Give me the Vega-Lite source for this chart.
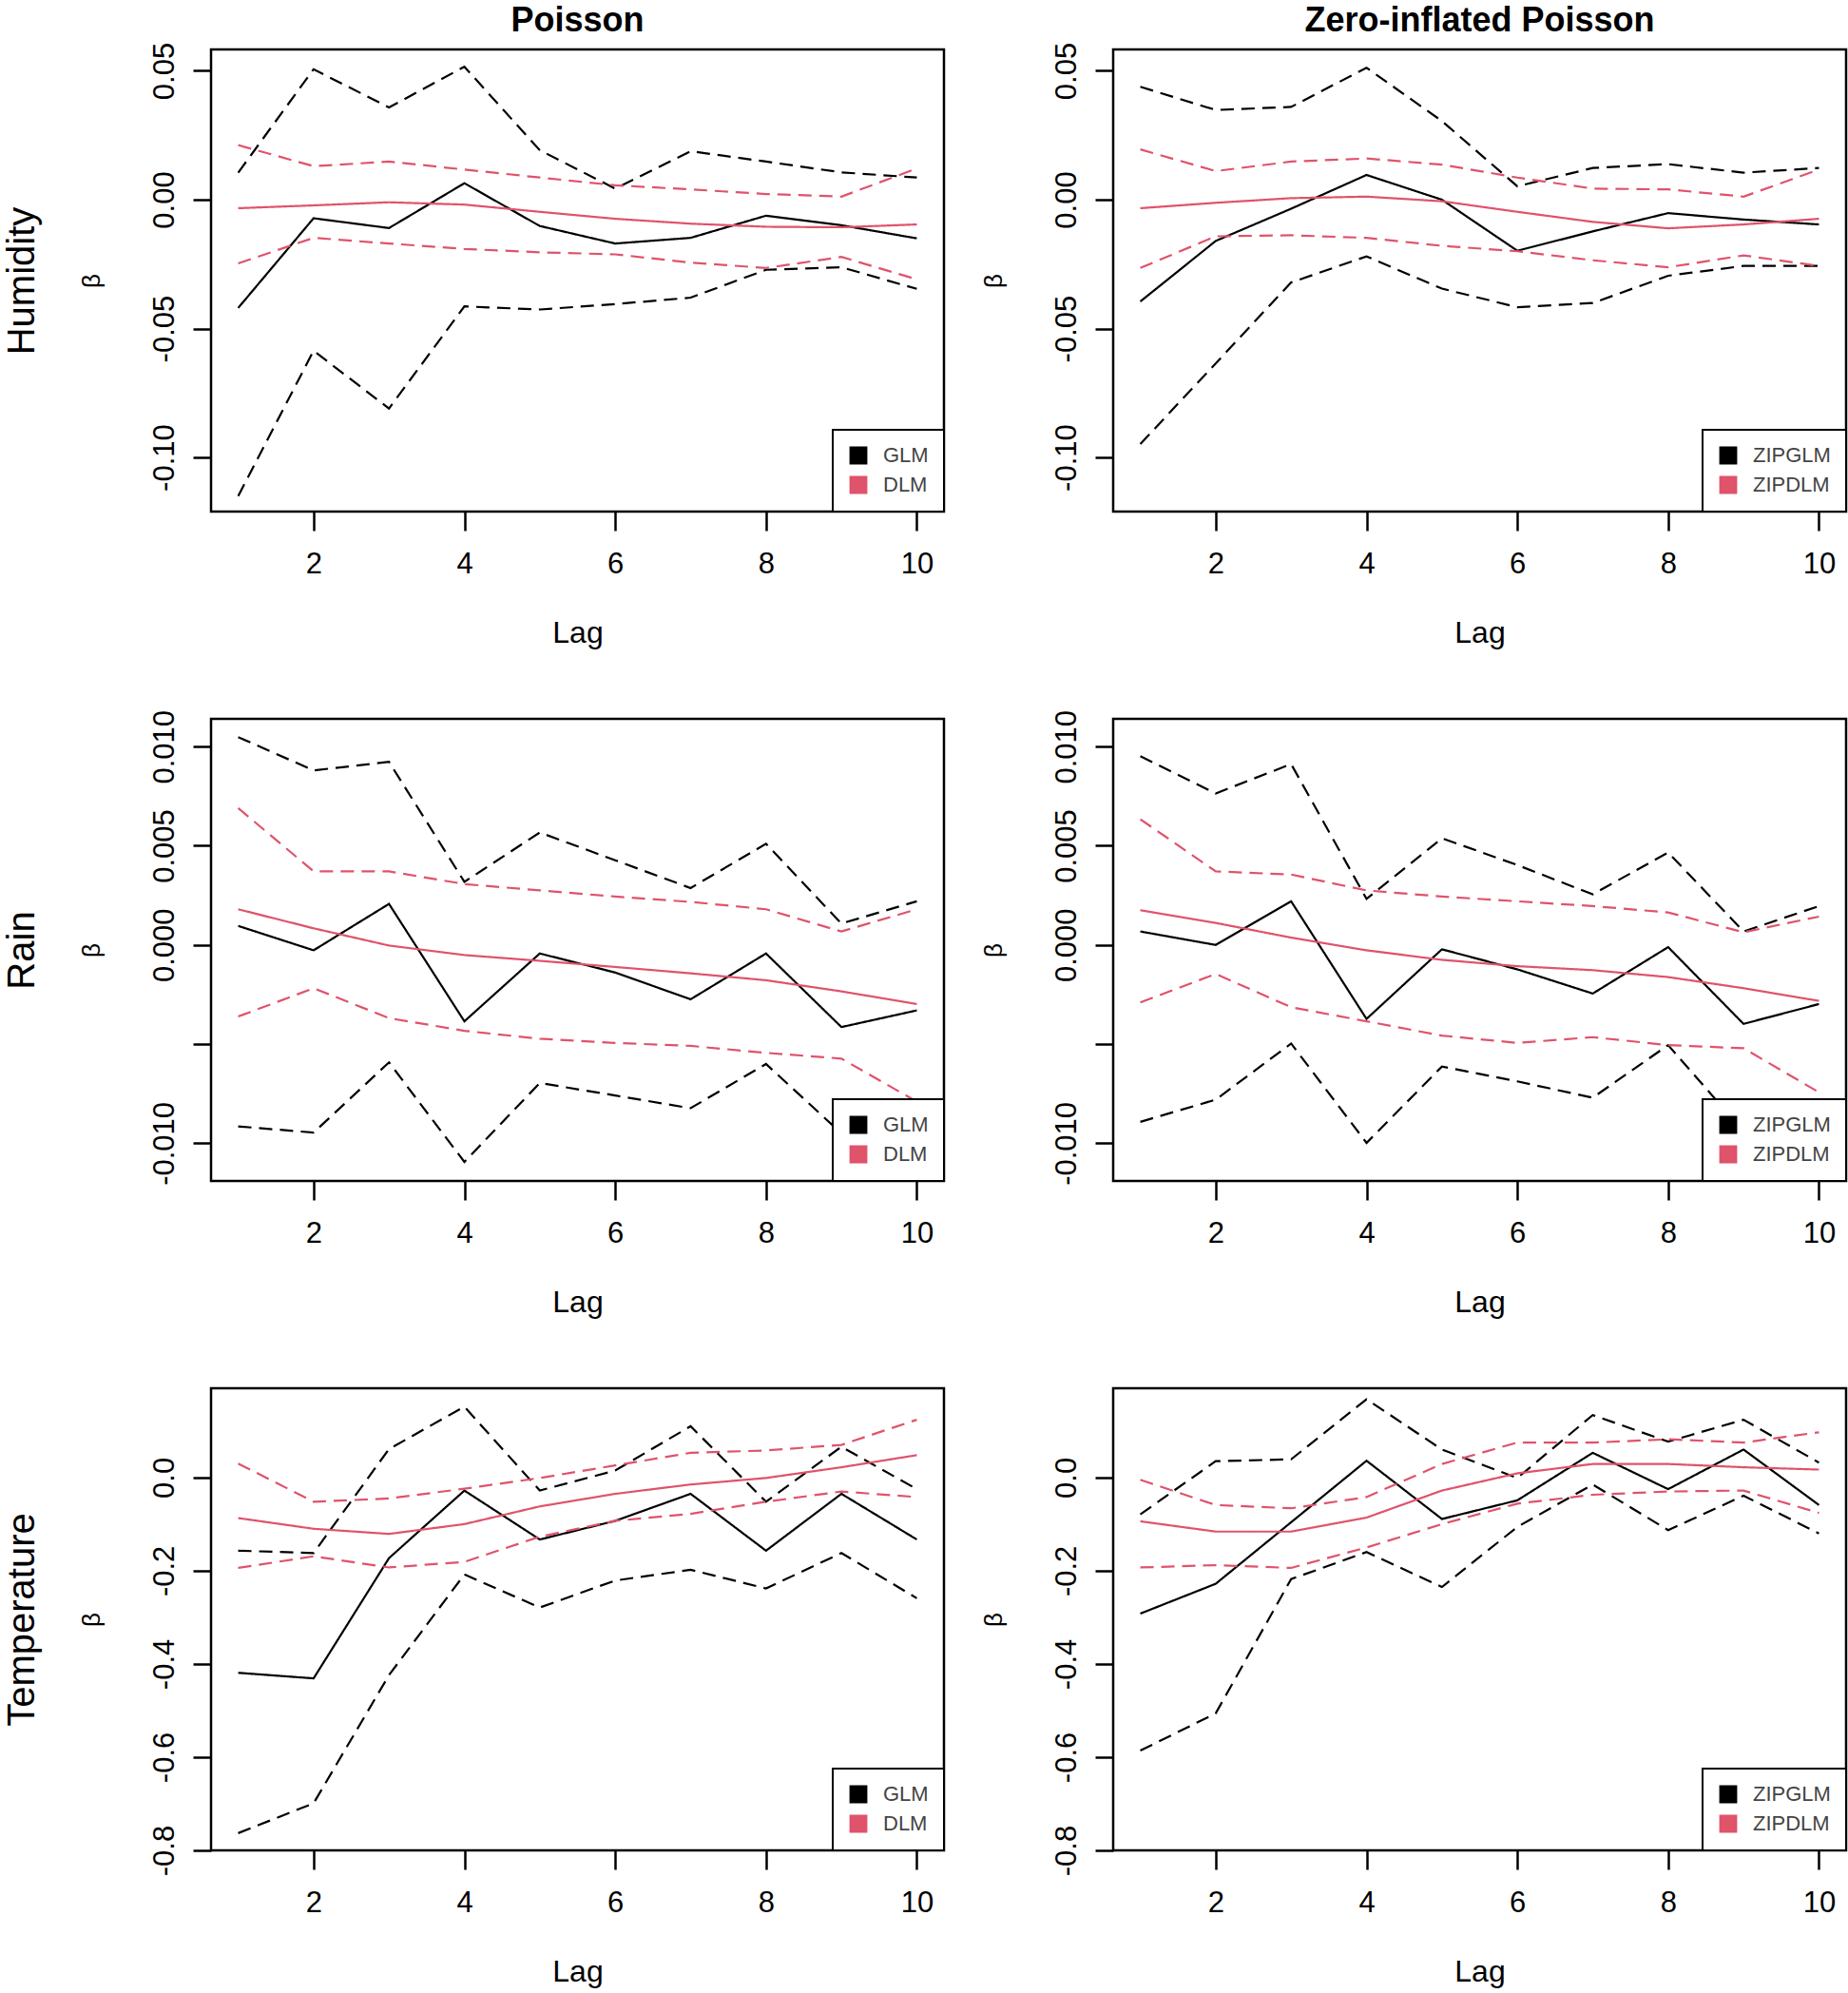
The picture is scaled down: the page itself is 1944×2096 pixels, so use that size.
{
"$schema": "https://vega.github.io/schema/vega-lite/v6.json",
"background": "white",
"padding": {"left": 1, "top": 3, "right": 0, "bottom": 0},
"datasets": {"d": [
{"v":"H","f":"P","m":"GLM","lag":1,"est":-0.042,"lo":-0.115,"hi":0.0105},
{"v":"H","f":"P","m":"GLM","lag":2,"est":-0.0072,"lo":-0.0586,"hi":0.0506},
{"v":"H","f":"P","m":"GLM","lag":3,"est":-0.011,"lo":-0.081,"hi":0.0358},
{"v":"H","f":"P","m":"GLM","lag":4,"est":0.0064,"lo":-0.0414,"hi":0.0516},
{"v":"H","f":"P","m":"GLM","lag":5,"est":-0.0102,"lo":-0.0426,"hi":0.0192},
{"v":"H","f":"P","m":"GLM","lag":6,"est":-0.017,"lo":-0.0405,"hi":0.0043},
{"v":"H","f":"P","m":"GLM","lag":7,"est":-0.0148,"lo":-0.038,"hi":0.0188},
{"v":"H","f":"P","m":"GLM","lag":8,"est":-0.0062,"lo":-0.0272,"hi":0.0148},
{"v":"H","f":"P","m":"GLM","lag":9,"est":-0.0099,"lo":-0.0262,"hi":0.0106},
{"v":"H","f":"P","m":"GLM","lag":10,"est":-0.015,"lo":-0.0346,"hi":0.0086},
{"v":"H","f":"P","m":"DLM","lag":1,"est":-0.0033,"lo":-0.0247,"hi":0.0212},
{"v":"H","f":"P","m":"DLM","lag":2,"est":-0.0022,"lo":-0.0148,"hi":0.013},
{"v":"H","f":"P","m":"DLM","lag":3,"est":-0.001,"lo":-0.017,"hi":0.0148},
{"v":"H","f":"P","m":"DLM","lag":4,"est":-0.0019,"lo":-0.0191,"hi":0.0117},
{"v":"H","f":"P","m":"DLM","lag":5,"est":-0.0047,"lo":-0.0204,"hi":0.0086},
{"v":"H","f":"P","m":"DLM","lag":6,"est":-0.0074,"lo":-0.0212,"hi":0.0056},
{"v":"H","f":"P","m":"DLM","lag":7,"est":-0.0093,"lo":-0.0244,"hi":0.004},
{"v":"H","f":"P","m":"DLM","lag":8,"est":-0.0105,"lo":-0.0265,"hi":0.0022},
{"v":"H","f":"P","m":"DLM","lag":9,"est":-0.0107,"lo":-0.0222,"hi":0.0012},
{"v":"H","f":"P","m":"DLM","lag":10,"est":-0.0096,"lo":-0.0309,"hi":0.0121},
{"v":"H","f":"Z","m":"ZIPGLM","lag":1,"est":-0.0395,"lo":-0.0948,"hi":0.0438},
{"v":"H","f":"Z","m":"ZIPGLM","lag":2,"est":-0.016,"lo":-0.0635,"hi":0.0348},
{"v":"H","f":"Z","m":"ZIPGLM","lag":3,"est":-0.0035,"lo":-0.0321,"hi":0.036},
{"v":"H","f":"Z","m":"ZIPGLM","lag":4,"est":0.0096,"lo":-0.022,"hi":0.0512},
{"v":"H","f":"Z","m":"ZIPGLM","lag":5,"est":0.0,"lo":-0.0345,"hi":0.0305},
{"v":"H","f":"Z","m":"ZIPGLM","lag":6,"est":-0.0198,"lo":-0.0417,"hi":0.0052},
{"v":"H","f":"Z","m":"ZIPGLM","lag":7,"est":-0.0123,"lo":-0.0401,"hi":0.0123},
{"v":"H","f":"Z","m":"ZIPGLM","lag":8,"est":-0.0052,"lo":-0.0295,"hi":0.0138},
{"v":"H","f":"Z","m":"ZIPGLM","lag":9,"est":-0.0077,"lo":-0.0257,"hi":0.0105},
{"v":"H","f":"Z","m":"ZIPGLM","lag":10,"est":-0.0096,"lo":-0.0257,"hi":0.0123},
{"v":"H","f":"Z","m":"ZIPDLM","lag":1,"est":-0.0033,"lo":-0.0265,"hi":0.0195},
{"v":"H","f":"Z","m":"ZIPDLM","lag":2,"est":-0.0012,"lo":-0.0142,"hi":0.0111},
{"v":"H","f":"Z","m":"ZIPDLM","lag":3,"est":0.0006,"lo":-0.0138,"hi":0.0148},
{"v":"H","f":"Z","m":"ZIPDLM","lag":4,"est":0.0012,"lo":-0.0148,"hi":0.016},
{"v":"H","f":"Z","m":"ZIPDLM","lag":5,"est":-0.0006,"lo":-0.0179,"hi":0.0136},
{"v":"H","f":"Z","m":"ZIPDLM","lag":6,"est":-0.0047,"lo":-0.02,"hi":0.0086},
{"v":"H","f":"Z","m":"ZIPDLM","lag":7,"est":-0.0086,"lo":-0.0235,"hi":0.0043},
{"v":"H","f":"Z","m":"ZIPDLM","lag":8,"est":-0.0111,"lo":-0.0262,"hi":0.004},
{"v":"H","f":"Z","m":"ZIPDLM","lag":9,"est":-0.0096,"lo":-0.0216,"hi":0.0012},
{"v":"H","f":"Z","m":"ZIPDLM","lag":10,"est":-0.0074,"lo":-0.0257,"hi":0.0117},
{"v":"R","f":"P","m":"GLM","lag":1,"est":0.00096,"lo":-0.00915,"hi":0.01048},
{"v":"R","f":"P","m":"GLM","lag":2,"est":-0.00027,"lo":-0.00946,"hi":0.0088},
{"v":"R","f":"P","m":"GLM","lag":3,"est":0.00207,"lo":-0.00592,"hi":0.00923},
{"v":"R","f":"P","m":"GLM","lag":4,"est":-0.00385,"lo":-0.01094,"hi":0.00318},
{"v":"R","f":"P","m":"GLM","lag":5,"est":-0.00043,"lo":-0.00696,"hi":0.00567},
{"v":"R","f":"P","m":"GLM","lag":6,"est":-0.00139,"lo":-0.00759,"hi":0.00427},
{"v":"R","f":"P","m":"GLM","lag":7,"est":-0.00274,"lo":-0.00823,"hi":0.00287},
{"v":"R","f":"P","m":"GLM","lag":8,"est":-0.00043,"lo":-0.006,"hi":0.0051},
{"v":"R","f":"P","m":"GLM","lag":9,"est":-0.00414,"lo":-0.0095,"hi":0.00108},
{"v":"R","f":"P","m":"GLM","lag":10,"est":-0.0033,"lo":-0.0092,"hi":0.0022},
{"v":"R","f":"P","m":"DLM","lag":1,"est":0.0018,"lo":-0.00361,"hi":0.0069},
{"v":"R","f":"P","m":"DLM","lag":2,"est":0.00084,"lo":-0.00218,"hi":0.00371},
{"v":"R","f":"P","m":"DLM","lag":3,"est":-0.00003,"lo":-0.00369,"hi":0.00371},
{"v":"R","f":"P","m":"DLM","lag":4,"est":-0.00051,"lo":-0.00433,"hi":0.00307},
{"v":"R","f":"P","m":"DLM","lag":5,"est":-0.0008,"lo":-0.00473,"hi":0.00275},
{"v":"R","f":"P","m":"DLM","lag":6,"est":-0.00111,"lo":-0.00494,"hi":0.00244},
{"v":"R","f":"P","m":"DLM","lag":7,"est":-0.00143,"lo":-0.00509,"hi":0.00217},
{"v":"R","f":"P","m":"DLM","lag":8,"est":-0.00178,"lo":-0.00544,"hi":0.0018},
{"v":"R","f":"P","m":"DLM","lag":9,"est":-0.00234,"lo":-0.00573,"hi":0.00068},
{"v":"R","f":"P","m":"DLM","lag":10,"est":-0.00298,"lo":-0.0079,"hi":0.0018},
{"v":"R","f":"Z","m":"ZIPGLM","lag":1,"est":0.00068,"lo":-0.00892,"hi":0.00952},
{"v":"R","f":"Z","m":"ZIPGLM","lag":2,"est":0.0,"lo":-0.0078,"hi":0.00764},
{"v":"R","f":"Z","m":"ZIPGLM","lag":3,"est":0.0022,"lo":-0.00497,"hi":0.00912},
{"v":"R","f":"Z","m":"ZIPGLM","lag":4,"est":-0.00373,"lo":-0.00998,"hi":0.00232},
{"v":"R","f":"Z","m":"ZIPGLM","lag":5,"est":-0.00022,"lo":-0.00613,"hi":0.00538},
{"v":"R","f":"Z","m":"ZIPGLM","lag":6,"est":-0.00123,"lo":-0.00688,"hi":0.00403},
{"v":"R","f":"Z","m":"ZIPGLM","lag":7,"est":-0.00245,"lo":-0.0077,"hi":0.00255},
{"v":"R","f":"Z","m":"ZIPGLM","lag":8,"est":-0.00011,"lo":-0.00505,"hi":0.00466},
{"v":"R","f":"Z","m":"ZIPGLM","lag":9,"est":-0.00398,"lo":-0.0094,"hi":0.00068},
{"v":"R","f":"Z","m":"ZIPGLM","lag":10,"est":-0.00298,"lo":-0.009,"hi":0.00196},
{"v":"R","f":"Z","m":"ZIPDLM","lag":1,"est":0.00175,"lo":-0.0029,"hi":0.00634},
{"v":"R","f":"Z","m":"ZIPDLM","lag":2,"est":0.00111,"lo":-0.00146,"hi":0.00371},
{"v":"R","f":"Z","m":"ZIPDLM","lag":3,"est":0.00037,"lo":-0.00314,"hi":0.00355},
{"v":"R","f":"Z","m":"ZIPDLM","lag":4,"est":-0.00027,"lo":-0.00385,"hi":0.00275},
{"v":"R","f":"Z","m":"ZIPDLM","lag":5,"est":-0.00075,"lo":-0.00457,"hi":0.00244},
{"v":"R","f":"Z","m":"ZIPDLM","lag":6,"est":-0.00107,"lo":-0.00494,"hi":0.0022},
{"v":"R","f":"Z","m":"ZIPDLM","lag":7,"est":-0.00127,"lo":-0.00465,"hi":0.00196},
{"v":"R","f":"Z","m":"ZIPDLM","lag":8,"est":-0.00162,"lo":-0.00505,"hi":0.00164},
{"v":"R","f":"Z","m":"ZIPDLM","lag":9,"est":-0.00218,"lo":-0.00521,"hi":0.00064},
{"v":"R","f":"Z","m":"ZIPDLM","lag":10,"est":-0.00282,"lo":-0.00743,"hi":0.00143},
{"v":"T","f":"P","m":"GLM","lag":1,"est":-0.419,"lo":-0.763,"hi":-0.157},
{"v":"T","f":"P","m":"GLM","lag":2,"est":-0.431,"lo":-0.699,"hi":-0.162},
{"v":"T","f":"P","m":"GLM","lag":3,"est":-0.173,"lo":-0.424,"hi":0.061},
{"v":"T","f":"P","m":"GLM","lag":4,"est":-0.028,"lo":-0.208,"hi":0.152},
{"v":"T","f":"P","m":"GLM","lag":5,"est":-0.133,"lo":-0.279,"hi":-0.028},
{"v":"T","f":"P","m":"GLM","lag":6,"est":-0.093,"lo":-0.221,"hi":0.015},
{"v":"T","f":"P","m":"GLM","lag":7,"est":-0.035,"lo":-0.198,"hi":0.11},
{"v":"T","f":"P","m":"GLM","lag":8,"est":-0.157,"lo":-0.238,"hi":-0.052},
{"v":"T","f":"P","m":"GLM","lag":9,"est":-0.035,"lo":-0.162,"hi":0.066},
{"v":"T","f":"P","m":"GLM","lag":10,"est":-0.133,"lo":-0.259,"hi":-0.025},
{"v":"T","f":"P","m":"DLM","lag":1,"est":-0.087,"lo":-0.194,"hi":0.03},
{"v":"T","f":"P","m":"DLM","lag":2,"est":-0.11,"lo":-0.169,"hi":-0.052},
{"v":"T","f":"P","m":"DLM","lag":3,"est":-0.121,"lo":-0.193,"hi":-0.045},
{"v":"T","f":"P","m":"DLM","lag":4,"est":-0.1,"lo":-0.181,"hi":-0.024},
{"v":"T","f":"P","m":"DLM","lag":5,"est":-0.062,"lo":-0.127,"hi":-0.001},
{"v":"T","f":"P","m":"DLM","lag":6,"est":-0.035,"lo":-0.093,"hi":0.026},
{"v":"T","f":"P","m":"DLM","lag":7,"est":-0.015,"lo":-0.078,"hi":0.053},
{"v":"T","f":"P","m":"DLM","lag":8,"est":-0.001,"lo":-0.052,"hi":0.058},
{"v":"T","f":"P","m":"DLM","lag":9,"est":0.022,"lo":-0.03,"hi":0.07},
{"v":"T","f":"P","m":"DLM","lag":10,"est":0.048,"lo":-0.042,"hi":0.124},
{"v":"T","f":"Z","m":"ZIPGLM","lag":1,"est":-0.292,"lo":-0.586,"hi":-0.079},
{"v":"T","f":"Z","m":"ZIPGLM","lag":2,"est":-0.228,"lo":-0.506,"hi":0.035},
{"v":"T","f":"Z","m":"ZIPGLM","lag":3,"est":-0.096,"lo":-0.218,"hi":0.039},
{"v":"T","f":"Z","m":"ZIPGLM","lag":4,"est":0.036,"lo":-0.16,"hi":0.168},
{"v":"T","f":"Z","m":"ZIPGLM","lag":5,"est":-0.089,"lo":-0.235,"hi":0.06},
{"v":"T","f":"Z","m":"ZIPGLM","lag":6,"est":-0.049,"lo":-0.106,"hi":-0.001},
{"v":"T","f":"Z","m":"ZIPGLM","lag":7,"est":0.053,"lo":-0.015,"hi":0.134},
{"v":"T","f":"Z","m":"ZIPGLM","lag":8,"est":-0.025,"lo":-0.113,"hi":0.077},
{"v":"T","f":"Z","m":"ZIPGLM","lag":9,"est":0.06,"lo":-0.039,"hi":0.124},
{"v":"T","f":"Z","m":"ZIPGLM","lag":10,"est":-0.059,"lo":-0.12,"hi":0.032},
{"v":"T","f":"Z","m":"ZIPDLM","lag":1,"est":-0.094,"lo":-0.193,"hi":-0.005},
{"v":"T","f":"Z","m":"ZIPDLM","lag":2,"est":-0.116,"lo":-0.188,"hi":-0.059},
{"v":"T","f":"Z","m":"ZIPDLM","lag":3,"est":-0.116,"lo":-0.194,"hi":-0.066},
{"v":"T","f":"Z","m":"ZIPDLM","lag":4,"est":-0.086,"lo":-0.15,"hi":-0.042},
{"v":"T","f":"Z","m":"ZIPDLM","lag":5,"est":-0.028,"lo":-0.1,"hi":0.029},
{"v":"T","f":"Z","m":"ZIPDLM","lag":6,"est":0.009,"lo":-0.056,"hi":0.075},
{"v":"T","f":"Z","m":"ZIPDLM","lag":7,"est":0.029,"lo":-0.037,"hi":0.075},
{"v":"T","f":"Z","m":"ZIPDLM","lag":8,"est":0.029,"lo":-0.03,"hi":0.082},
{"v":"T","f":"Z","m":"ZIPDLM","lag":9,"est":0.022,"lo":-0.028,"hi":0.075},
{"v":"T","f":"Z","m":"ZIPDLM","lag":10,"est":0.017,"lo":-0.076,"hi":0.097}
]},
"columns": 2,
"spacing": {"row": 218, "column": 178},
"bounds": "flush",
"resolve": {"scale": {"color": "independent", "strokeDash": "independent", "x": "independent", "y": "independent"}, "legend": {"color": "independent", "strokeDash": "independent"}},
"concat": [
{
 "title": {"text": "Poisson"},
 "width": 771, "height": 486,
 "data": {"name": "d"},
 "transform": [{"filter": "datum.v == 'H' && datum.f == 'P'"}, {"fold": ["est", "lo", "hi"], "as": ["line", "beta"]}],
 "encoding": {
  "x": {"field": "lag", "type": "quantitative", "scale": {"domain": [0.64, 10.36], "nice": false, "zero": false}, "axis": {"values": [2, 4, 6, 8, 10], "title": "Lag"}},
  "color": {"field": "m", "type": "nominal", "scale": {"domain": ["GLM", "DLM"], "range": ["#000000", "#DF536B"]}, "legend": {"title": null, "orient": "bottom-right", "encode": {"symbols": {"update": {"fill": {"signal": "indexof(datum.value, 'GLM') >= 0 ? '#000000' : '#DF536B'"}, "stroke": {"value": "#000000"}}}}}},
  "strokeDash": {"field": "line", "type": "nominal", "scale": {"domain": ["est", "lo", "hi"], "range": [[1, 0], [14, 8], [14, 8]]}, "legend": null}
 },
 "layer": [
  {"transform": [{"filter": "datum.m == 'GLM'"}], "mark": {"type": "line", "strokeWidth": 2.2},
   "encoding": {"y": {"field": "beta", "type": "quantitative", "scale": {"domain": [-0.121, 0.0583], "nice": false, "zero": false}, "axis": {"values": [-0.1, -0.05, 0, 0.05], "format": ".2f", "labelExpr": "replace(datum.label, '\u2212', '-')", "title": "β"}}}},
  {"transform": [{"filter": "datum.m == 'DLM'"}], "mark": {"type": "line", "strokeWidth": 2.2},
   "encoding": {"y": {"field": "beta", "type": "quantitative", "scale": {"domain": [-0.121, 0.0583], "nice": false, "zero": false}, "axis": {"orient": "left", "title": "Humidity", "labels": false, "ticks": false, "domain": false, "grid": false, "offset": 179, "titlePadding": 0, "minExtent": 0, "maxExtent": 0, "titleFontSize": 40}}}}
 ],
 "resolve": {"axis": {"y": "independent"}}
},
{
 "title": {"text": "Zero-inflated Poisson"},
 "width": 771, "height": 486,
 "data": {"name": "d"},
 "transform": [{"filter": "datum.v == 'H' && datum.f == 'Z'"}, {"fold": ["est", "lo", "hi"], "as": ["line", "beta"]}],
 "mark": {"type": "line", "strokeWidth": 2.2},
 "encoding": {
  "x": {"field": "lag", "type": "quantitative", "scale": {"domain": [0.64, 10.36], "nice": false, "zero": false}, "axis": {"values": [2, 4, 6, 8, 10], "title": "Lag"}},
  "y": {"field": "beta", "type": "quantitative", "scale": {"domain": [-0.121, 0.0583], "nice": false, "zero": false}, "axis": {"values": [-0.1, -0.05, 0, 0.05], "format": ".2f", "labelExpr": "replace(datum.label, '\u2212', '-')", "title": "β"}},
  "color": {"field": "m", "type": "nominal", "scale": {"domain": ["ZIPGLM", "ZIPDLM"], "range": ["#000000", "#DF536B"]}, "legend": {"title": null, "orient": "bottom-right", "encode": {"symbols": {"update": {"fill": {"signal": "indexof(datum.value, 'GLM') >= 0 ? '#000000' : '#DF536B'"}, "stroke": {"value": "#000000"}}}}}},
  "strokeDash": {"field": "line", "type": "nominal", "scale": {"domain": ["est", "lo", "hi"], "range": [[1, 0], [14, 8], [14, 8]]}, "legend": null}
 }
},
{
 "width": 771, "height": 486,
 "data": {"name": "d"},
 "transform": [{"filter": "datum.v == 'R' && datum.f == 'P'"}, {"fold": ["est", "lo", "hi"], "as": ["line", "beta"]}],
 "encoding": {
  "x": {"field": "lag", "type": "quantitative", "scale": {"domain": [0.64, 10.36], "nice": false, "zero": false}, "axis": {"values": [2, 4, 6, 8, 10], "title": "Lag"}},
  "color": {"field": "m", "type": "nominal", "scale": {"domain": ["GLM", "DLM"], "range": ["#000000", "#DF536B"]}, "legend": {"title": null, "orient": "bottom-right", "encode": {"symbols": {"update": {"fill": {"signal": "indexof(datum.value, 'GLM') >= 0 ? '#000000' : '#DF536B'"}, "stroke": {"value": "#000000"}}}}}},
  "strokeDash": {"field": "line", "type": "nominal", "scale": {"domain": ["est", "lo", "hi"], "range": [[1, 0], [14, 8], [14, 8]]}, "legend": null}
 },
 "layer": [
  {"transform": [{"filter": "datum.m == 'GLM'"}], "mark": {"type": "line", "strokeWidth": 2.2},
   "encoding": {"y": {"field": "beta", "type": "quantitative", "scale": {"domain": [-0.0119, 0.0114], "nice": false, "zero": false}, "axis": {"values": [-0.01, -0.005, 0, 0.005, 0.01], "format": ".3f", "labelExpr": "abs(datum.value + 0.005) < 0.000001 ? '' : replace(datum.label, '\u2212', '-')", "title": "β"}}}},
  {"transform": [{"filter": "datum.m == 'DLM'"}], "mark": {"type": "line", "strokeWidth": 2.2},
   "encoding": {"y": {"field": "beta", "type": "quantitative", "scale": {"domain": [-0.0119, 0.0114], "nice": false, "zero": false}, "axis": {"orient": "left", "title": "Rain", "labels": false, "ticks": false, "domain": false, "grid": false, "offset": 179, "titlePadding": 0, "minExtent": 0, "maxExtent": 0, "titleFontSize": 40}}}}
 ],
 "resolve": {"axis": {"y": "independent"}}
},
{
 "width": 771, "height": 486,
 "data": {"name": "d"},
 "transform": [{"filter": "datum.v == 'R' && datum.f == 'Z'"}, {"fold": ["est", "lo", "hi"], "as": ["line", "beta"]}],
 "mark": {"type": "line", "strokeWidth": 2.2},
 "encoding": {
  "x": {"field": "lag", "type": "quantitative", "scale": {"domain": [0.64, 10.36], "nice": false, "zero": false}, "axis": {"values": [2, 4, 6, 8, 10], "title": "Lag"}},
  "y": {"field": "beta", "type": "quantitative", "scale": {"domain": [-0.0119, 0.0114], "nice": false, "zero": false}, "axis": {"values": [-0.01, -0.005, 0, 0.005, 0.01], "format": ".3f", "labelExpr": "abs(datum.value + 0.005) < 0.000001 ? '' : replace(datum.label, '\u2212', '-')", "title": "β"}},
  "color": {"field": "m", "type": "nominal", "scale": {"domain": ["ZIPGLM", "ZIPDLM"], "range": ["#000000", "#DF536B"]}, "legend": {"title": null, "orient": "bottom-right", "encode": {"symbols": {"update": {"fill": {"signal": "indexof(datum.value, 'GLM') >= 0 ? '#000000' : '#DF536B'"}, "stroke": {"value": "#000000"}}}}}},
  "strokeDash": {"field": "line", "type": "nominal", "scale": {"domain": ["est", "lo", "hi"], "range": [[1, 0], [14, 8], [14, 8]]}, "legend": null}
 }
},
{
 "width": 771, "height": 486,
 "data": {"name": "d"},
 "transform": [{"filter": "datum.v == 'T' && datum.f == 'P'"}, {"fold": ["est", "lo", "hi"], "as": ["line", "beta"]}],
 "encoding": {
  "x": {"field": "lag", "type": "quantitative", "scale": {"domain": [0.64, 10.36], "nice": false, "zero": false}, "axis": {"values": [2, 4, 6, 8, 10], "title": "Lag"}},
  "color": {"field": "m", "type": "nominal", "scale": {"domain": ["GLM", "DLM"], "range": ["#000000", "#DF536B"]}, "legend": {"title": null, "orient": "bottom-right", "encode": {"symbols": {"update": {"fill": {"signal": "indexof(datum.value, 'GLM') >= 0 ? '#000000' : '#DF536B'"}, "stroke": {"value": "#000000"}}}}}},
  "strokeDash": {"field": "line", "type": "nominal", "scale": {"domain": ["est", "lo", "hi"], "range": [[1, 0], [14, 8], [14, 8]]}, "legend": null}
 },
 "layer": [
  {"transform": [{"filter": "datum.m == 'GLM'"}], "mark": {"type": "line", "strokeWidth": 2.2},
   "encoding": {"y": {"field": "beta", "type": "quantitative", "scale": {"domain": [-0.8, 0.1915], "nice": false, "zero": false}, "axis": {"values": [-0.8, -0.6, -0.4, -0.2, 0], "format": ".1f", "labelExpr": "replace(datum.label, '\u2212', '-')", "title": "β"}}}},
  {"transform": [{"filter": "datum.m == 'DLM'"}], "mark": {"type": "line", "strokeWidth": 2.2},
   "encoding": {"y": {"field": "beta", "type": "quantitative", "scale": {"domain": [-0.8, 0.1915], "nice": false, "zero": false}, "axis": {"orient": "left", "title": "Temperature", "labels": false, "ticks": false, "domain": false, "grid": false, "offset": 179, "titlePadding": 0, "minExtent": 0, "maxExtent": 0, "titleFontSize": 40}}}}
 ],
 "resolve": {"axis": {"y": "independent"}}
},
{
 "width": 771, "height": 486,
 "data": {"name": "d"},
 "transform": [{"filter": "datum.v == 'T' && datum.f == 'Z'"}, {"fold": ["est", "lo", "hi"], "as": ["line", "beta"]}],
 "mark": {"type": "line", "strokeWidth": 2.2},
 "encoding": {
  "x": {"field": "lag", "type": "quantitative", "scale": {"domain": [0.64, 10.36], "nice": false, "zero": false}, "axis": {"values": [2, 4, 6, 8, 10], "title": "Lag"}},
  "y": {"field": "beta", "type": "quantitative", "scale": {"domain": [-0.8, 0.1915], "nice": false, "zero": false}, "axis": {"values": [-0.8, -0.6, -0.4, -0.2, 0], "format": ".1f", "labelExpr": "replace(datum.label, '\u2212', '-')", "title": "β"}},
  "color": {"field": "m", "type": "nominal", "scale": {"domain": ["ZIPGLM", "ZIPDLM"], "range": ["#000000", "#DF536B"]}, "legend": {"title": null, "orient": "bottom-right", "encode": {"symbols": {"update": {"fill": {"signal": "indexof(datum.value, 'GLM') >= 0 ? '#000000' : '#DF536B'"}, "stroke": {"value": "#000000"}}}}}},
  "strokeDash": {"field": "line", "type": "nominal", "scale": {"domain": ["est", "lo", "hi"], "range": [[1, 0], [14, 8], [14, 8]]}, "legend": null}
 }
}
],
"config": {
 "font": "Liberation Sans",
 "view": {"stroke": "black", "strokeWidth": 2.5},
 "axis": {"domain": false, "grid": false, "tickColor": "black", "tickWidth": 2.5, "labelFont": "Liberation Sans", "labelFontSize": 31, "labelColor": "black", "titleFont": "Liberation Sans", "titleFontWeight": "normal", "titleColor": "black", "labelOverlap": false, "labelFlush": false},
 "axisX": {"tickSize": 20, "labelPadding": 20, "labelAngle": 0, "labelBaseline": "top", "titleFontSize": 32, "titlePadding": 42},
 "axisY": {"tickSize": 19, "labelAngle": -90, "labelAlign": "center", "labelBaseline": "alphabetic", "labelPadding": 21, "titleFontSize": 26, "titlePadding": 48},
 "legend": {"orient": "bottom-right", "offset": 0, "padding": 16, "strokeColor": "black", "strokeWidth": 2, "fillColor": "white", "symbolType": "square", "symbolSize": 300, "symbolStrokeWidth": 1.5, "symbolOpacity": 1, "labelFont": "Liberation Sans", "labelFontSize": 22, "labelColor": "#444444", "labelOffset": 15, "rowPadding": 7},
 "title": {"font": "Liberation Sans", "fontSize": 36, "fontWeight": "bold", "color": "black", "anchor": "middle", "frame": "group", "offset": 3, "baseline": "alphabetic"}
}
}
